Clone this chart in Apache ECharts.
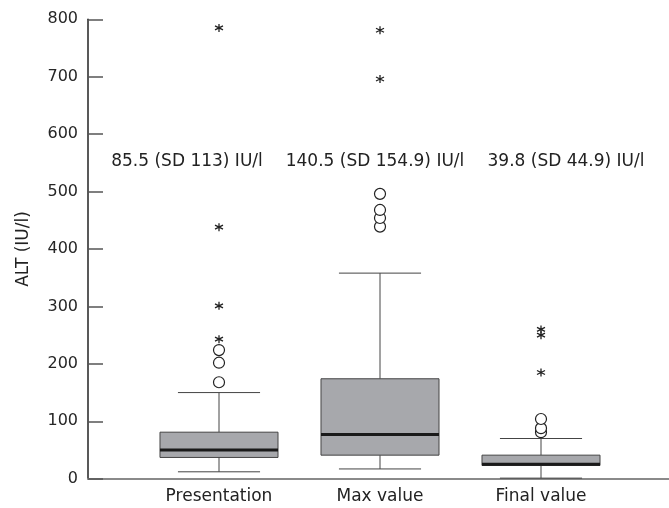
<!DOCTYPE html>
<html>
<head>
<meta charset="utf-8">
<script src="https://cdn.jsdelivr.net/npm/echarts@6/dist/echarts.min.js"></script>
<style>html,body{margin:0;padding:0;background:#fff;}#c{width:669px;height:508px;}</style>
</head>
<body>
<div id="c"></div>
<script>
const categories = ['Presentation', 'Max value', 'Final value'];
const whiskerLow = [12, 17, 1];
const q1 = [37, 41, 23];
const median = [50, 77, 25];
const q3 = [81, 174, 41];
const whiskerHigh = [150, 358, 70];
const circleOutliers = [[0, 168], [0, 202], [0, 224], [1, 439], [1, 454], [1, 468], [1, 496], [2, 81], [2, 88], [2, 104]];
const starOutliers = [[0, 243], [0, 301], [0, 438], [0, 785], [1, 696], [1, 781], [2, 185], [2, 250], [2, 260]];
const annotations = ['85.5 (SD 113) IU/l', '140.5 (SD 154.9) IU/l', '39.8 (SD 44.9) IU/l'];
const annotationY = 552;
const yTicks = [0, 100, 200, 300, 400, 500, 600, 700, 800];

const FONT = 'DejaVu Sans';
const chart = echarts.init(document.getElementById('c'));

const boxData = categories.map((c, i) => [i, whiskerLow[i], q1[i], median[i], q3[i], whiskerHigh[i]]);

function renderBox(params, api) {
  const i = api.value(0);
  const band = api.size([1, 0])[0];
  const bw = band * 0.733;
  const cw = band * 0.51;
  const pLow = api.coord([i, api.value(1)]);
  const pQ1 = api.coord([i, api.value(2)]);
  const pMed = api.coord([i, api.value(3)]);
  const pQ3 = api.coord([i, api.value(4)]);
  const pHigh = api.coord([i, api.value(5)]);
  const cx = pQ1[0];
  const lineStyle = { stroke: '#444', lineWidth: 1, fill: null };
  return {
    type: 'group',
    children: [
      { type: 'line', shape: { x1: cx, y1: pQ3[1], x2: cx, y2: pHigh[1] }, style: lineStyle },
      { type: 'line', shape: { x1: cx, y1: pQ1[1], x2: cx, y2: pLow[1] }, style: lineStyle },
      { type: 'line', shape: { x1: cx - cw / 2, y1: pHigh[1], x2: cx + cw / 2, y2: pHigh[1] }, style: lineStyle },
      { type: 'line', shape: { x1: cx - cw / 2, y1: pLow[1], x2: cx + cw / 2, y2: pLow[1] }, style: lineStyle },
      { type: 'rect', shape: { x: cx - bw / 2, y: pQ3[1], width: bw, height: pQ1[1] - pQ3[1] },
        style: { fill: '#a7a8ac', stroke: '#444', lineWidth: 1 } },
      { type: 'line', shape: { x1: cx - bw / 2, y1: pMed[1], x2: cx + bw / 2, y2: pMed[1] },
        style: { stroke: '#1a1a1a', lineWidth: 3 } }
    ]
  };
}

const annoCenters = [187, 375, 566];

chart.setOption({
  animation: false,
  backgroundColor: '#fff',
  grid: [
    { left: 88, right: 0, top: 19.3, bottom: 29.3 },
    { left: 138.5, width: 483, top: 19.3, bottom: 29.3 }
  ],
  xAxis: [
    { gridIndex: 0, type: 'value', min: 0, max: 1, show: true,
      axisLine: { show: true, lineStyle: { color: '#8a8a8a', width: 2 } },
      axisTick: { show: false }, axisLabel: { show: false }, splitLine: { show: false } },
    { gridIndex: 1, type: 'category', data: categories,
      axisLine: { show: false }, axisTick: { show: false }, splitLine: { show: false },
      axisLabel: { fontFamily: FONT, fontSize: 17, color: '#222', margin: 9 } }
  ],
  yAxis: [
    { gridIndex: 0, type: 'value', min: 0, max: 800, interval: 100,
      name: 'ALT (IU/l)', nameLocation: 'middle', nameGap: 56,
      nameTextStyle: { fontFamily: FONT, fontSize: 17, color: '#222' },
      axisLine: { show: true, lineStyle: { color: '#222', width: 1.5 } },
      axisTick: { show: true, inside: true, length: 15, lineStyle: { color: '#555', width: 1.5 } },
      axisLabel: { fontFamily: FONT, fontSize: 16, color: '#262626', margin: 10 },
      splitLine: { show: false } },
    { gridIndex: 1, type: 'value', min: 0, max: 800, interval: 100, show: false }
  ],
  graphic: annotations.map((t, i) => ({
    type: 'text', x: annoCenters[i], y: 162,
    style: { text: t, fontFamily: FONT, fontSize: 17, fill: '#222', align: 'center', verticalAlign: 'middle' }
  })),
  series: [
    { type: 'custom', xAxisIndex: 1, yAxisIndex: 1, renderItem: renderBox, data: boxData, z: 3 },
    { type: 'scatter', xAxisIndex: 1, yAxisIndex: 1, data: circleOutliers, symbol: 'circle', symbolSize: 11,
      itemStyle: { color: '#fff', borderColor: '#222', borderWidth: 1.2, opacity: 1 }, z: 4 },
    { type: 'scatter', xAxisIndex: 1, yAxisIndex: 1, data: starOutliers,
      symbol: 'path://M5,0L5,10M0.67,2.5L9.33,7.5M0.67,7.5L9.33,2.5', symbolSize: 8,
      itemStyle: { color: 'none', borderColor: '#222', borderWidth: 1.3, opacity: 1 }, z: 4 }
  ]
});
</script>
</body>
</html>
